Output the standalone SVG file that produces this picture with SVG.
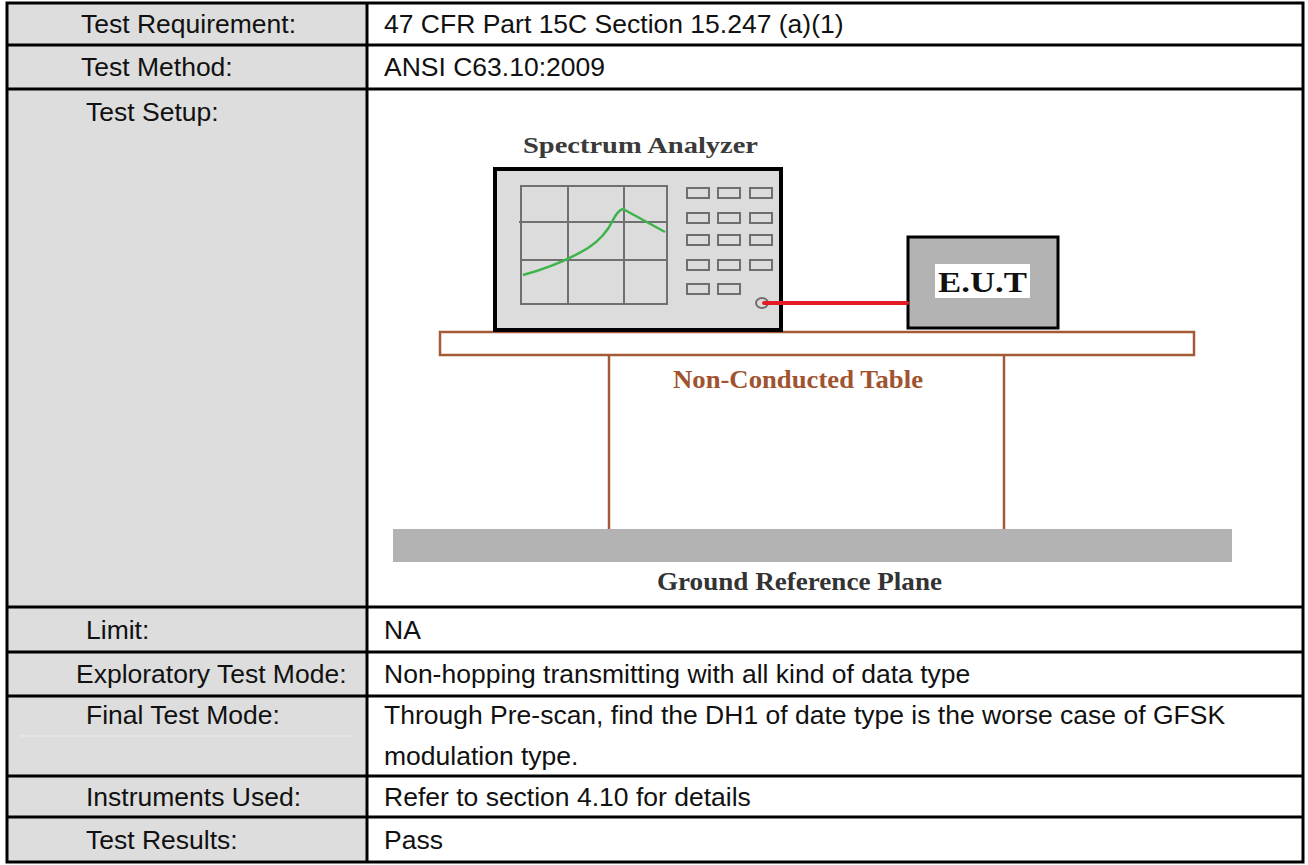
<svg xmlns="http://www.w3.org/2000/svg" width="1308" height="865" viewBox="0 0 1308 865">
  <style>
    .lbl { font-family: "Liberation Sans", Arial, sans-serif; font-size: 26.5px; fill: #111; }
    .val { font-family: "Liberation Sans", Arial, sans-serif; font-size: 26.5px; fill: #111; }
    .grid { stroke: #000; stroke-width: 3; fill: none; }
    .ser { font-family: "Liberation Serif", "Times New Roman", serif; font-weight: bold; }
    .scr { stroke: #707070; stroke-width: 2; fill: none; }
    .btn { stroke: #6e6e6e; stroke-width: 2; fill: #dcdcdc; }
    .brown { stroke: #a45a36; stroke-width: 2.5; }
  </style>

  <g id="report-table">
    <rect x="0" y="0" width="1308" height="865" fill="#ffffff"/>
    <rect x="7" y="3" width="360" height="859" fill="#dddddd"/>
    <line x1="20" y1="736" x2="352" y2="736" stroke="#ececec" stroke-width="1"/>
    <rect class="grid" x="7" y="3" width="1296" height="859"/>
    <line class="grid" x1="367" y1="3" x2="367" y2="862"/>
    <line class="grid" x1="7" y1="45" x2="1303" y2="45"/>
    <line class="grid" x1="7" y1="89" x2="1303" y2="89"/>
    <line class="grid" x1="7" y1="607" x2="1303" y2="607"/>
    <line class="grid" x1="7" y1="652" x2="1303" y2="652"/>
    <line class="grid" x1="7" y1="696" x2="1303" y2="696"/>
    <line class="grid" x1="7" y1="776" x2="1303" y2="776"/>
    <line class="grid" x1="7" y1="817" x2="1303" y2="817"/>

    <text class="lbl" x="81" y="33">Test Requirement:</text>
    <text class="lbl" x="81" y="76">Test Method:</text>
    <text class="lbl" x="86" y="121">Test Setup:</text>
    <text class="lbl" x="86" y="639">Limit:</text>
    <text class="lbl" x="76" y="683">Exploratory Test Mode:</text>
    <text class="lbl" x="86" y="724">Final Test Mode:</text>
    <text class="lbl" x="86" y="806">Instruments Used:</text>
    <text class="lbl" x="86" y="849">Test Results:</text>

    <text class="val" x="384" y="33">47 CFR Part 15C Section 15.247 (a)(1)</text>
    <text class="val" x="384" y="76">ANSI C63.10:2009</text>
    <text class="val" x="384" y="639">NA</text>
    <text class="val" x="384" y="683">Non-hopping transmitting with all kind of data type</text>
    <text class="val" x="384" y="724">Through Pre-scan, find the DH1 of date type is the worse case of GFSK</text>
    <text class="val" x="384" y="765">modulation type.</text>
    <text class="val" x="384" y="806">Refer to section 4.10 for details</text>
    <text class="val" x="384" y="849">Pass</text>
  </g>

  <g id="ground-plane">
    <rect x="393" y="529" width="839" height="33" fill="#b3b3b3"/>
    <text class="ser" x="657" y="590" font-size="26" fill="#333333" textLength="285" lengthAdjust="spacingAndGlyphs">Ground Reference Plane</text>
  </g>

  <g id="non-conducted-table">
    <line class="brown" x1="609" y1="355" x2="609" y2="529"/>
    <line class="brown" x1="1004" y1="355" x2="1004" y2="529"/>
    <rect class="brown" x="440" y="332" width="754" height="23" fill="#ffffff"/>
    <text class="ser" x="673" y="388" font-size="26" fill="#a0532f" textLength="250" lengthAdjust="spacingAndGlyphs">Non-Conducted Table</text>
  </g>

  <g id="spectrum-analyzer">
    <text class="ser" x="523" y="153" font-size="24" fill="#3a3a3a" textLength="235" lengthAdjust="spacingAndGlyphs">Spectrum Analyzer</text>
    <rect x="495" y="169" width="286" height="161" fill="#dcdcdc" stroke="#000" stroke-width="4"/>
    <rect class="scr" x="521" y="186" width="146" height="118"/>
    <line class="scr" x1="568" y1="186" x2="568" y2="304"/>
    <line class="scr" x1="624" y1="186" x2="624" y2="304"/>
    <line class="scr" x1="519" y1="222" x2="667" y2="222"/>
    <line class="scr" x1="521" y1="260" x2="667" y2="260"/>
    <path d="M523,275 Q560,265 588,248 Q605,237 613,220 Q618,210 623,209 L665,232" fill="none" stroke="#3cb44b" stroke-width="2.5"/>
    <rect class="btn" x="687" y="188" width="22" height="10"/>
    <rect class="btn" x="718" y="188" width="22" height="10"/>
    <rect class="btn" x="750" y="188" width="22" height="10"/>
    <rect class="btn" x="687" y="213" width="22" height="10"/>
    <rect class="btn" x="718" y="213" width="22" height="10"/>
    <rect class="btn" x="750" y="213" width="22" height="10"/>
    <rect class="btn" x="687" y="235" width="22" height="10"/>
    <rect class="btn" x="718" y="235" width="22" height="10"/>
    <rect class="btn" x="750" y="235" width="22" height="10"/>
    <rect class="btn" x="687" y="260" width="22" height="10"/>
    <rect class="btn" x="718" y="260" width="22" height="10"/>
    <rect class="btn" x="750" y="260" width="22" height="10"/>
    <rect class="btn" x="687" y="284" width="22" height="10"/>
    <rect class="btn" x="718" y="284" width="22" height="10"/>
    <ellipse cx="762" cy="303" rx="6" ry="5" fill="#dcdcdc" stroke="#6e6e6e" stroke-width="2"/>
  </g>

  <g id="eut">
    <rect x="908" y="237" width="150" height="91" fill="#b3b3b3" stroke="#000" stroke-width="3"/>
    <rect x="935" y="264" width="95" height="34" fill="#ffffff"/>
    <text class="ser" x="982.5" y="292" font-size="29" fill="#111" text-anchor="middle" textLength="89" lengthAdjust="spacingAndGlyphs">E.U.T</text>
  </g>

  <g id="connectors">
    <line x1="764" y1="303" x2="907" y2="303" stroke="#e31b23" stroke-width="4" stroke-linecap="round"/>
  </g>
</svg>
